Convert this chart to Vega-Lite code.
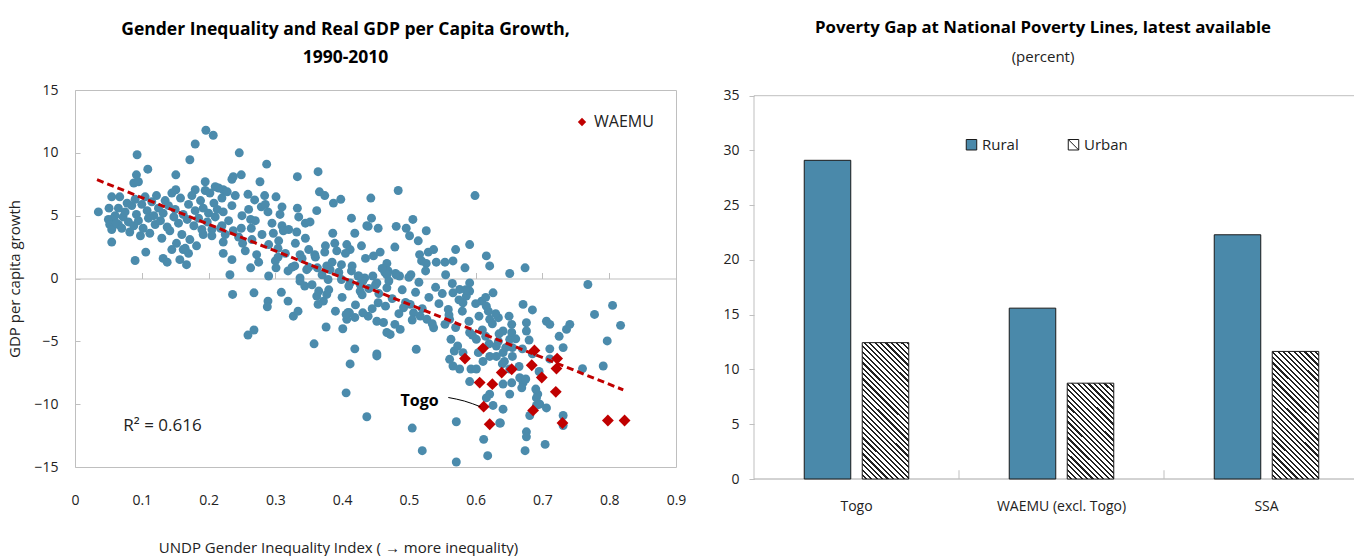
{
"$schema": "https://vega.github.io/schema/vega-lite/v6.json",
"padding": {"left": 7, "top": 19, "right": 0, "bottom": 0},
"background": "white",
"spacing": 35,
"config": {
  "font": "Open Sans",
  "view": {"stroke": null},
  "title": {"font": "Open Sans", "color": "#000", "subtitleFont": "Open Sans", "subtitleColor": "#222"},
  "axis": {"labelFont": "Open Sans", "titleFont": "Open Sans", "labelColor": "#222", "titleColor": "#222", "grid": false, "titleFontWeight": "normal"},
  "legend": {"labelFont": "Open Sans", "labelColor": "#222"}
},
"datasets": {
  "dots": [
{"x":0.035,"y":5.3},{"x":0.196,"y":11.8},{"x":0.207,"y":11.4},{"x":0.18,"y":10.7},{"x":0.172,"y":9.45},{"x":0.093,"y":9.85},{"x":0.109,"y":8.7},{"x":0.092,"y":8.25},{"x":0.088,"y":7.6},{"x":0.095,"y":7.7},
{"x":0.246,"y":10.0},{"x":0.287,"y":9.1},{"x":0.237,"y":8.1},{"x":0.249,"y":8.25},{"x":0.235,"y":7.9},{"x":0.277,"y":7.7},{"x":0.333,"y":8.1},{"x":0.364,"y":8.5},{"x":0.366,"y":6.9},{"x":0.374,"y":6.6},
{"x":0.387,"y":6.0},{"x":0.398,"y":6.3},{"x":0.443,"y":6.4},{"x":0.151,"y":8.25},{"x":0.151,"y":7.06},{"x":0.18,"y":7.06},{"x":0.195,"y":7.7},{"x":0.21,"y":7.3},{"x":0.222,"y":7.06},{"x":0.055,"y":6.5},
{"x":0.067,"y":6.5},{"x":0.051,"y":5.6},{"x":0.055,"y":4.7},{"x":0.06,"y":4.4},{"x":0.065,"y":4.3},{"x":0.055,"y":2.9},{"x":0.09,"y":1.43},{"x":0.106,"y":2.1},{"x":0.132,"y":1.6},{"x":0.138,"y":1.3},
{"x":0.157,"y":1.5},{"x":0.167,"y":1.1},{"x":0.145,"y":2.3},{"x":0.162,"y":2.3},{"x":0.17,"y":2.0},{"x":0.192,"y":3.5},{"x":0.205,"y":3.9},{"x":0.22,"y":4.2},{"x":0.222,"y":2.9},{"x":0.237,"y":3.8},
{"x":0.249,"y":4.0},{"x":0.263,"y":4.7},{"x":0.264,"y":4.0},{"x":0.222,"y":2.0},{"x":0.235,"y":1.5},{"x":0.251,"y":2.8},{"x":0.272,"y":1.9},{"x":0.263,"y":0.85},{"x":0.232,"y":0.3},{"x":0.29,"y":0.2},
{"x":0.297,"y":3.6},{"x":0.31,"y":4.2},{"x":0.307,"y":5.1},{"x":0.312,"y":3.8},{"x":0.284,"y":6.6},{"x":0.279,"y":5.7},{"x":0.289,"y":5.3},{"x":0.259,"y":6.7},{"x":0.269,"y":6.25},{"x":0.301,"y":6.5},
{"x":0.333,"y":5.6},{"x":0.362,"y":5.4},{"x":0.332,"y":3.7},{"x":0.345,"y":4.4},{"x":0.352,"y":4.5},{"x":0.304,"y":2.4},{"x":0.304,"y":1.7},{"x":0.301,"y":0.85},{"x":0.319,"y":0.6},{"x":0.337,"y":1.9},
{"x":0.359,"y":1.9},{"x":0.374,"y":2.1},{"x":0.329,"y":1.0},{"x":0.347,"y":0.7},{"x":0.337,"y":0.05},{"x":0.363,"y":0.85},{"x":0.377,"y":1.0},{"x":0.382,"y":0.7},{"x":0.386,"y":3.6},{"x":0.389,"y":2.8},
{"x":0.392,"y":2.2},{"x":0.407,"y":2.7},{"x":0.412,"y":2.3},{"x":0.429,"y":2.6},{"x":0.414,"y":4.8},{"x":0.419,"y":3.6},{"x":0.437,"y":4.2},{"x":0.444,"y":4.8},{"x":0.454,"y":4.0},{"x":0.447,"y":1.8},
{"x":0.457,"y":2.1},{"x":0.399,"y":1.1},{"x":0.414,"y":0.6},{"x":0.424,"y":0.2},{"x":0.434,"y":0.05},{"x":0.446,"y":0.2},{"x":0.467,"y":1.2},{"x":0.469,"y":0.6},
{"x":0.484,"y":7.0},{"x":0.599,"y":6.6},{"x":0.439,"y":4.15},{"x":0.481,"y":4.15},{"x":0.496,"y":4.0},{"x":0.506,"y":4.7},{"x":0.501,"y":3.4},{"x":0.514,"y":3.0},{"x":0.526,"y":3.8},{"x":0.479,"y":2.5},
{"x":0.464,"y":0.5},{"x":0.516,"y":1.9},{"x":0.529,"y":2.1},{"x":0.537,"y":2.3},{"x":0.519,"y":1.4},{"x":0.526,"y":1.2},{"x":0.541,"y":1.3},{"x":0.554,"y":1.3},{"x":0.566,"y":1.4},{"x":0.57,"y":2.3},
{"x":0.584,"y":0.85},{"x":0.591,"y":2.7},{"x":0.616,"y":1.8},{"x":0.621,"y":1.0},{"x":0.651,"y":0.4},{"x":0.674,"y":0.85},{"x":0.481,"y":0.3},{"x":0.486,"y":0.2},{"x":0.503,"y":0.3},
{"x":0.236,"y":-1.27},{"x":0.268,"y":-1.14},{"x":0.309,"y":-1.1},{"x":0.319,"y":-1.8},{"x":0.289,"y":-1.8},{"x":0.288,"y":-2.25},{"x":0.327,"y":-3.0},{"x":0.334,"y":-2.6},{"x":0.259,"y":-4.5},{"x":0.268,"y":-4.1},
{"x":0.337,"y":-0.21},{"x":0.344,"y":-0.6},{"x":0.362,"y":-1.4},{"x":0.372,"y":-1.8},{"x":0.377,"y":-1.27},{"x":0.364,"y":-2.06},{"x":0.376,"y":-3.86},{"x":0.358,"y":-5.2},{"x":0.401,"y":-4.0},{"x":0.407,"y":-3.25},
{"x":0.409,"y":-2.7},{"x":0.419,"y":-3.1},{"x":0.419,"y":-5.6},{"x":0.412,"y":-6.8},{"x":0.406,"y":-9.1},{"x":0.437,"y":-11.0},{"x":0.439,"y":-3.0},{"x":0.452,"y":-3.4},{"x":0.462,"y":-3.5},{"x":0.454,"y":-1.93},
{"x":0.467,"y":-4.3},{"x":0.452,"y":-6.0},{"x":0.467,"y":0.3},{"x":0.452,"y":-0.35},{"x":0.467,"y":-0.74},{"x":0.399,"y":-0.08},{"x":0.379,"y":-0.08},{"x":0.412,"y":-0.35},{"x":0.427,"y":-0.48},{"x":0.431,"y":-0.21},
{"x":0.768,"y":-0.48},{"x":0.805,"y":-2.14},{"x":0.778,"y":-2.86},{"x":0.817,"y":-3.73},{"x":0.797,"y":-4.97},{"x":0.791,"y":-6.96},{"x":0.76,"y":-7.17},{"x":0.741,"y":-3.65},{"x":0.736,"y":-4.05},{"x":0.725,"y":-4.6},
{"x":0.731,"y":-5.5},{"x":0.711,"y":-5.6},{"x":0.706,"y":-3.4},{"x":0.711,"y":-3.65},{"x":0.685,"y":-2.5},{"x":0.671,"y":-2.06},{"x":0.676,"y":-3.52},{"x":0.676,"y":-4.18},{"x":0.654,"y":-3.65},{"x":0.641,"y":-4.18},
{"x":0.651,"y":-4.84},{"x":0.634,"y":-3.12},{"x":0.626,"y":-1.14},{"x":0.621,"y":-3.25},{"x":0.619,"y":-2.6},{"x":0.609,"y":-1.8},{"x":0.616,"y":-2.2},{"x":0.591,"y":-0.35},{"x":0.591,"y":-1.0},{"x":0.581,"y":-1.93},
{"x":0.586,"y":-1.4},{"x":0.576,"y":-0.87},{"x":0.566,"y":-1.14},{"x":0.559,"y":-2.46},{"x":0.561,"y":-3.25},{"x":0.554,"y":-3.65},{"x":0.537,"y":-3.92},{"x":0.527,"y":-3.25},{"x":0.517,"y":-2.99},{"x":0.507,"y":-2.73},
{"x":0.502,"y":-2.06},{"x":0.492,"y":-2.33},{"x":0.487,"y":-4.05},{"x":0.472,"y":-4.45},{"x":0.479,"y":-3.65},{"x":0.431,"y":-2.73},{"x":0.411,"y":-2.73},{"x":0.406,"y":-2.86},{"x":0.427,"y":-1.0},{"x":0.452,"y":-6.16},
{"x":0.511,"y":-5.63},{"x":0.505,"y":-11.9},{"x":0.52,"y":-13.7},{"x":0.571,"y":-11.4},{"x":0.571,"y":-14.6},{"x":0.612,"y":-12.8},{"x":0.618,"y":-14.1},{"x":0.637,"y":-11.5},{"x":0.676,"y":-12.2},{"x":0.676,"y":-12.6},
{"x":0.674,"y":-13.7},{"x":0.704,"y":-13.2},{"x":0.691,"y":-10.1},{"x":0.696,"y":-10.0},{"x":0.706,"y":-10.3},{"x":0.731,"y":-10.9},{"x":0.731,"y":-11.7},{"x":0.681,"y":-10.9},{"x":0.641,"y":-10.4},{"x":0.626,"y":-10.1},
{"x":0.636,"y":-11.5},{"x":0.615,"y":-4.6},{"x":0.621,"y":-6.2},{"x":0.631,"y":-6.2},{"x":0.643,"y":-6.6},{"x":0.651,"y":-7.2},{"x":0.654,"y":-8.3},{"x":0.641,"y":-8.4},{"x":0.651,"y":-9.2},{"x":0.671,"y":-8.3},
{"x":0.669,"y":-8.7},{"x":0.666,"y":-7.9},{"x":0.621,"y":-9.2},{"x":0.616,"y":-9.5},{"x":0.591,"y":-8.2},{"x":0.593,"y":-7.2},{"x":0.576,"y":-7.2},{"x":0.566,"y":-6.96},{"x":0.561,"y":-6.43},{"x":0.568,"y":-5.77},
{"x":0.563,"y":-4.84},{"x":0.573,"y":-5.37},{"x":0.581,"y":-5.9},{"x":0.591,"y":-4.3},{"x":0.601,"y":-4.84},{"x":0.604,"y":-5.9},{"x":0.611,"y":-6.6},{"x":0.601,"y":-7.2},{"x":0.631,"y":-5.37},{"x":0.641,"y":-5.9},
{"x":0.634,"y":-5.0},{"x":0.655,"y":-5.5},{"x":0.654,"y":-4.3},{"x":0.711,"y":-6.4},{"x":0.691,"y":-9.5},{"x":0.693,"y":-9.2},
{"x":0.05,"y":4.7},{"x":0.052,"y":4.3},{"x":0.055,"y":3.9},{"x":0.06,"y":5.0},{"x":0.062,"y":4.4},{"x":0.065,"y":5.6},{"x":0.07,"y":4.0},{"x":0.072,"y":4.9},{"x":0.075,"y":5.3},{"x":0.078,"y":6.0},
{"x":0.08,"y":4.5},{"x":0.082,"y":3.7},{"x":0.085,"y":5.8},{"x":0.088,"y":4.2},{"x":0.09,"y":6.3},{"x":0.092,"y":5.1},{"x":0.095,"y":4.6},{"x":0.098,"y":3.4},{"x":0.1,"y":5.9},{"x":0.102,"y":4.0},
{"x":0.105,"y":6.5},{"x":0.108,"y":5.4},{"x":0.11,"y":4.8},{"x":0.112,"y":3.6},{"x":0.115,"y":6.1},{"x":0.118,"y":5.0},{"x":0.12,"y":4.3},{"x":0.122,"y":6.6},{"x":0.125,"y":5.6},{"x":0.128,"y":4.6},
{"x":0.13,"y":3.2},{"x":0.132,"y":5.2},{"x":0.135,"y":6.2},{"x":0.138,"y":4.1},{"x":0.14,"y":5.8},{"x":0.142,"y":3.8},{"x":0.145,"y":6.8},{"x":0.148,"y":4.9},{"x":0.15,"y":5.5},{"x":0.152,"y":2.8},
{"x":0.155,"y":4.4},{"x":0.158,"y":6.4},{"x":0.16,"y":3.5},{"x":0.162,"y":5.1},{"x":0.165,"y":2.4},{"x":0.168,"y":4.7},{"x":0.17,"y":5.9},{"x":0.172,"y":3.1},{"x":0.175,"y":6.6},{"x":0.178,"y":4.2},
{"x":0.18,"y":5.4},{"x":0.182,"y":2.6},{"x":0.185,"y":4.8},{"x":0.188,"y":6.2},{"x":0.19,"y":3.9},{"x":0.192,"y":5.6},{"x":0.195,"y":7.0},{"x":0.198,"y":4.5},{"x":0.2,"y":5.2},{"x":0.202,"y":6.8},
{"x":0.205,"y":3.4},{"x":0.208,"y":6.0},{"x":0.21,"y":4.9},{"x":0.213,"y":5.5},{"x":0.215,"y":7.2},{"x":0.218,"y":4.0},{"x":0.22,"y":6.4},{"x":0.222,"y":5.3},{"x":0.225,"y":3.5},{"x":0.228,"y":6.9},
{"x":0.23,"y":4.6},{"x":0.235,"y":5.8},{"x":0.24,"y":6.6},{"x":0.245,"y":3.3},{"x":0.25,"y":5.0},
{"x":0.45,"y":-0.5},{"x":0.455,"y":-1.2},{"x":0.46,"y":0.8},{"x":0.465,"y":-2.2},{"x":0.47,"y":-0.2},{"x":0.475,"y":-1.6},{"x":0.48,"y":0.4},{"x":0.485,"y":-2.8},{"x":0.49,"y":-0.9},{"x":0.495,"y":-1.9},
{"x":0.5,"y":0.1},{"x":0.505,"y":-3.3},{"x":0.51,"y":-1.1},{"x":0.515,"y":-0.3},{"x":0.52,"y":-2.4},{"x":0.525,"y":0.6},{"x":0.53,"y":-1.5},{"x":0.535,"y":-3.6},{"x":0.54,"y":-0.7},{"x":0.545,"y":-2.0},
{"x":0.55,"y":-1.2},{"x":0.555,"y":0.3},{"x":0.56,"y":-2.9},{"x":0.565,"y":-0.4},{"x":0.57,"y":-3.9},{"x":0.575,"y":-1.7},{"x":0.58,"y":-2.6},{"x":0.585,"y":-0.9},{"x":0.59,"y":-3.4},{"x":0.595,"y":-4.5},
{"x":0.6,"y":-2.0},{"x":0.605,"y":-3.0},{"x":0.61,"y":-4.1},{"x":0.615,"y":-1.5},{"x":0.62,"y":-5.2},{"x":0.625,"y":-3.6},{"x":0.63,"y":-2.8},{"x":0.635,"y":-4.4},{"x":0.64,"y":-6.8},{"x":0.645,"y":-5.5},
{"x":0.65,"y":-3.0},{"x":0.655,"y":-6.2},{"x":0.66,"y":-4.8},{"x":0.665,"y":-7.0},{"x":0.67,"y":-5.6},{"x":0.675,"y":-8.0},{"x":0.68,"y":-4.9},{"x":0.685,"y":-6.0},{"x":0.69,"y":-8.8},{"x":0.695,"y":-7.4},
{"x":0.35,"y":0.9},{"x":0.355,"y":-0.5},{"x":0.36,"y":1.7},{"x":0.365,"y":-1.0},{"x":0.37,"y":0.3},{"x":0.375,"y":2.6},{"x":0.38,"y":-0.9},{"x":0.385,"y":1.3},{"x":0.39,"y":-2.6},{"x":0.395,"y":0.5},
{"x":0.4,"y":-1.5},{"x":0.405,"y":2.0},{"x":0.41,"y":-0.6},{"x":0.415,"y":1.0},{"x":0.42,"y":-2.1},{"x":0.425,"y":0.2},{"x":0.43,"y":-1.3},{"x":0.435,"y":1.6},{"x":0.44,"y":-0.8},{"x":0.445,"y":-2.4},
{"x":0.255,"y":2.2},{"x":0.26,"y":5.5},{"x":0.265,"y":3.1},{"x":0.27,"y":4.6},{"x":0.275,"y":1.3},{"x":0.28,"y":3.5},{"x":0.285,"y":5.9},{"x":0.29,"y":2.7},{"x":0.295,"y":4.4},{"x":0.3,"y":1.4},
{"x":0.305,"y":3.0},{"x":0.31,"y":5.7},{"x":0.315,"y":2.0},{"x":0.32,"y":3.9},{"x":0.325,"y":0.9},{"x":0.33,"y":2.8},{"x":0.335,"y":4.9},{"x":0.34,"y":1.6},{"x":0.345,"y":3.2},{"x":0.35,"y":2.3}
  ],
  "waemu": [
{"x":0.584,"y":-6.37,"group":"WAEMU"},{"x":0.611,"y":-5.56,"group":"WAEMU"},{"x":0.688,"y":-5.72,"group":"WAEMU"},{"x":0.722,"y":-6.37,"group":"WAEMU"},{"x":0.721,"y":-7.17,"group":"WAEMU"},{"x":0.684,"y":-6.9,"group":"WAEMU"},
{"x":0.699,"y":-7.88,"group":"WAEMU"},{"x":0.654,"y":-7.22,"group":"WAEMU"},{"x":0.639,"y":-7.49,"group":"WAEMU"},{"x":0.606,"y":-8.28,"group":"WAEMU"},{"x":0.625,"y":-8.41,"group":"WAEMU"},{"x":0.72,"y":-9.02,"group":"WAEMU"},
{"x":0.612,"y":-10.2,"group":"WAEMU"},{"x":0.621,"y":-11.6,"group":"WAEMU"},{"x":0.686,"y":-10.5,"group":"WAEMU"},{"x":0.73,"y":-11.5,"group":"WAEMU"},{"x":0.798,"y":-11.3,"group":"WAEMU"},{"x":0.823,"y":-11.3,"group":"WAEMU"}
  ],
  "trend": [{"x":0.033,"y":7.86},{"x":0.821,"y":-8.86}],
  "togoLine": [{"x":0.559,"y":-9.47},{"x":0.583,"y":-9.75},{"x":0.607,"y":-10.2}],
  "bars": [
{"region":"Togo","type":"Rural","value":29.1},{"region":"Togo","type":"Urban","value":12.45},
{"region":"WAEMU (excl. Togo)","type":"Rural","value":15.6},{"region":"WAEMU (excl. Togo)","type":"Urban","value":8.75},
{"region":"SSA","type":"Rural","value":22.3},{"region":"SSA","type":"Urban","value":11.65}
  ]
},
"hconcat": [
{
  "width": 601, "height": 377,
  "view": {"stroke": "#bfbfbf"},
  "title": {"text": ["Gender Inequality and Real GDP per Capita Growth,", "1990-2010"], "fontSize": 17.5, "fontWeight": "bold", "lineHeight": 28, "dx": -30, "offset": 17},
  "resolve": {"axis": {"x": "independent"}},
  "layer": [
    {"data": {"name": "dots"}, "mark": {"type": "circle", "size": 80, "color": "#4b8bac", "opacity": 1},
     "encoding": {
       "x": {"field": "x", "type": "quantitative", "scale": {"domain": [0, 0.9], "nice": false, "zero": false},
             "axis": {"values": [0,0.1,0.2,0.3,0.4,0.5,0.6,0.7,0.8,0.9], "format": ".1~f", "labelFlush": false, "ticks": false, "domain": false, "labelPadding": 26, "labelFontSize": 14, "title": "UNDP Gender Inequality Index ( → more inequality)", "titleFontSize": 15, "titlePadding": 33, "titleX": 263}},
       "y": {"field": "y", "type": "quantitative", "scale": {"domain": [-15, 15], "nice": false},
             "axis": {"values": [-15,-10,-5,0,5,10,15], "domain": false, "tickSize": -5, "tickColor": "#bfbfbf", "labelPadding": 22, "labelFontSize": 14, "title": "GDP per capita growth", "titleFontSize": 15, "titlePadding": 11}}
     }},
    {"data": {"name": "trend"}, "mark": {"type": "line", "color": "#c00000", "strokeWidth": 3, "strokeDash": [7, 4]},
     "encoding": {
       "x": {"field": "x", "type": "quantitative", "axis": {"orient": "bottom", "offset": -188.5, "labels": false, "title": null, "domain": true, "domainColor": "#bfbfbf", "ticks": true, "tickSize": -6, "tickColor": "#bfbfbf", "values": [0.1,0.2,0.3,0.4,0.5,0.6,0.7,0.8]}},
       "y": {"field": "y", "type": "quantitative"}
     }},
    {"data": {"name": "waemu"}, "mark": {"type": "point", "shape": "diamond", "filled": true, "size": 140, "opacity": 1},
     "encoding": {
       "x": {"field": "x", "type": "quantitative", "axis": null},
       "y": {"field": "y", "type": "quantitative"},
       "color": {"field": "group", "type": "nominal", "scale": {"domain": ["WAEMU"], "range": ["#c00000"]},
                 "legend": {"title": null, "orient": "none", "legendX": 499, "legendY": 24, "symbolType": "diamond", "symbolSize": 70, "symbolOpacity": 1, "labelFontSize": 16, "labelOffset": 4}}
     }},
    {"data": {"name": "togoLine"}, "mark": {"type": "line", "color": "#000", "strokeWidth": 1, "interpolate": "monotone"},
     "encoding": {
       "x": {"field": "x", "type": "quantitative", "axis": null},
       "y": {"field": "y", "type": "quantitative"}
     }},
    {"data": {"values": [{"x": 0.516, "y": -9.76, "label": "Togo"}]}, "mark": {"type": "text", "fontSize": 16, "fontWeight": "bold", "color": "#000", "align": "center", "baseline": "middle"},
     "encoding": {
       "x": {"field": "x", "type": "quantitative", "axis": null},
       "y": {"field": "y", "type": "quantitative"},
       "text": {"field": "label"}
     }},
    {"data": {"values": [{"x": 0.131, "y": -11.75, "label": "R² = 0.616"}]}, "mark": {"type": "text", "fontSize": 17, "color": "#222", "align": "center", "baseline": "middle"},
     "encoding": {
       "x": {"field": "x", "type": "quantitative", "axis": null},
       "y": {"field": "y", "type": "quantitative"},
       "text": {"field": "label"}
     }}
  ]
},
{
  "width": 600, "height": 389,
  "view": {"stroke": null},
  "title": {"text": "Poverty Gap at National Poverty Lines, latest available", "subtitle": "(percent)", "fontSize": 16.8, "fontWeight": "bold", "subtitleFontSize": 15, "subtitlePadding": 13, "dx": -11, "offset": 24},
  "data": {"name": "bars"},
  "layer": [
    {"data": {"values": [{}]}, "mark": {"type": "rule", "color": "#bfbfbf"}, "encoding": {"y": {"datum": 35, "type": "quantitative"}}},
    {"data": {"values": [{}]}, "mark": {"type": "rule", "color": "#a6a6a6"}, "encoding": {"y": {"datum": 0, "type": "quantitative"}}},
    {"mark": {"type": "bar", "stroke": "#1a1a1a", "strokeWidth": 1},
     "encoding": {
       "x": {"field": "region", "type": "nominal", "sort": null, "scale": {"domain": ["Togo", "WAEMU (excl. Togo)", "SSA"], "range": [0, 615], "paddingInner": 0, "paddingOuter": 0},
             "axis": {"title": null, "ticks": false, "domain": false, "labelAngle": 0, "labelPadding": 20, "labelFontSize": 14}},
       "xOffset": {"field": "type", "type": "nominal", "scale": {"domain": ["Rural", "Urban"], "paddingInner": 0.198, "paddingOuter": 0.866}},
       "y": {"field": "value", "type": "quantitative", "scale": {"domain": [0, 35.52], "nice": false},
             "axis": {"title": null, "values": [0,5,10,15,20,25,30,35], "domain": false, "tickColor": "#bfbfbf", "tickSize": 5, "labelPadding": 10, "labelFontSize": 14}},
       "fill": {"field": "type", "type": "nominal", "scale": {"domain": ["Rural", "Urban"], "range": ["#4a89aa", "#ffffff"]},
         "legend": {"title": null, "orient": "none", "legendX": 889, "legendY": 47, "direction": "horizontal", "symbolType": "square", "symbolSize": 110, "symbolStrokeColor": "#1a1a1a", "symbolStrokeWidth": 1, "labelFontSize": 15, "labelOffset": 3, "columnPadding": 47,
           "encode": {"symbols": {"update": {"shape": [{"test": "datum.value === 'Urban'", "value": "M-1,-1H1V1H-1Z M-1,-1L1,1"}, {"value": "square"}], "stroke": {"value": "#1a1a1a"}, "strokeWidth": {"value": 1}}}}},
         "condition": [
           {"test": "datum.type === 'Urban' && datum.region === 'Togo'", "value": {"gradient": "linear", "x1": 0, "y1": 1, "x2": 0.4309, "y2": -0.2677, "stops": [
{"offset":0,"color":"#fff"},{"offset":0.01667,"color":"#fff"},{"offset":0.01667,"color":"#222"},{"offset":0.02778,"color":"#222"},
{"offset":0.02778,"color":"#fff"},{"offset":0.04444,"color":"#fff"},{"offset":0.04444,"color":"#222"},{"offset":0.05556,"color":"#222"},
{"offset":0.05556,"color":"#fff"},{"offset":0.07222,"color":"#fff"},{"offset":0.07222,"color":"#222"},{"offset":0.08333,"color":"#222"},
{"offset":0.08333,"color":"#fff"},{"offset":0.1,"color":"#fff"},{"offset":0.1,"color":"#222"},{"offset":0.11111,"color":"#222"},
{"offset":0.11111,"color":"#fff"},{"offset":0.12778,"color":"#fff"},{"offset":0.12778,"color":"#222"},{"offset":0.13889,"color":"#222"},
{"offset":0.13889,"color":"#fff"},{"offset":0.15556,"color":"#fff"},{"offset":0.15556,"color":"#222"},{"offset":0.16667,"color":"#222"},
{"offset":0.16667,"color":"#fff"},{"offset":0.18333,"color":"#fff"},{"offset":0.18333,"color":"#222"},{"offset":0.19444,"color":"#222"},
{"offset":0.19444,"color":"#fff"},{"offset":0.21111,"color":"#fff"},{"offset":0.21111,"color":"#222"},{"offset":0.22222,"color":"#222"},
{"offset":0.22222,"color":"#fff"},{"offset":0.23889,"color":"#fff"},{"offset":0.23889,"color":"#222"},{"offset":0.25,"color":"#222"},
{"offset":0.25,"color":"#fff"},{"offset":0.26667,"color":"#fff"},{"offset":0.26667,"color":"#222"},{"offset":0.27778,"color":"#222"},
{"offset":0.27778,"color":"#fff"},{"offset":0.29444,"color":"#fff"},{"offset":0.29444,"color":"#222"},{"offset":0.30556,"color":"#222"},
{"offset":0.30556,"color":"#fff"},{"offset":0.32222,"color":"#fff"},{"offset":0.32222,"color":"#222"},{"offset":0.33333,"color":"#222"},
{"offset":0.33333,"color":"#fff"},{"offset":0.35,"color":"#fff"},{"offset":0.35,"color":"#222"},{"offset":0.36111,"color":"#222"},
{"offset":0.36111,"color":"#fff"},{"offset":0.37778,"color":"#fff"},{"offset":0.37778,"color":"#222"},{"offset":0.38889,"color":"#222"},
{"offset":0.38889,"color":"#fff"},{"offset":0.40556,"color":"#fff"},{"offset":0.40556,"color":"#222"},{"offset":0.41667,"color":"#222"},
{"offset":0.41667,"color":"#fff"},{"offset":0.43333,"color":"#fff"},{"offset":0.43333,"color":"#222"},{"offset":0.44444,"color":"#222"},
{"offset":0.44444,"color":"#fff"},{"offset":0.46111,"color":"#fff"},{"offset":0.46111,"color":"#222"},{"offset":0.47222,"color":"#222"},
{"offset":0.47222,"color":"#fff"},{"offset":0.48889,"color":"#fff"},{"offset":0.48889,"color":"#222"},{"offset":0.5,"color":"#222"},
{"offset":0.5,"color":"#fff"},{"offset":0.51667,"color":"#fff"},{"offset":0.51667,"color":"#222"},{"offset":0.52778,"color":"#222"},
{"offset":0.52778,"color":"#fff"},{"offset":0.54444,"color":"#fff"},{"offset":0.54444,"color":"#222"},{"offset":0.55556,"color":"#222"},
{"offset":0.55556,"color":"#fff"},{"offset":0.57222,"color":"#fff"},{"offset":0.57222,"color":"#222"},{"offset":0.58333,"color":"#222"},
{"offset":0.58333,"color":"#fff"},{"offset":0.6,"color":"#fff"},{"offset":0.6,"color":"#222"},{"offset":0.61111,"color":"#222"},
{"offset":0.61111,"color":"#fff"},{"offset":0.62778,"color":"#fff"},{"offset":0.62778,"color":"#222"},{"offset":0.63889,"color":"#222"},
{"offset":0.63889,"color":"#fff"},{"offset":0.65556,"color":"#fff"},{"offset":0.65556,"color":"#222"},{"offset":0.66667,"color":"#222"},
{"offset":0.66667,"color":"#fff"},{"offset":0.68333,"color":"#fff"},{"offset":0.68333,"color":"#222"},{"offset":0.69444,"color":"#222"},
{"offset":0.69444,"color":"#fff"},{"offset":0.71111,"color":"#fff"},{"offset":0.71111,"color":"#222"},{"offset":0.72222,"color":"#222"},
{"offset":0.72222,"color":"#fff"},{"offset":0.73889,"color":"#fff"},{"offset":0.73889,"color":"#222"},{"offset":0.75,"color":"#222"},
{"offset":0.75,"color":"#fff"},{"offset":0.76667,"color":"#fff"},{"offset":0.76667,"color":"#222"},{"offset":0.77778,"color":"#222"},
{"offset":0.77778,"color":"#fff"},{"offset":0.79444,"color":"#fff"},{"offset":0.79444,"color":"#222"},{"offset":0.80556,"color":"#222"},
{"offset":0.80556,"color":"#fff"},{"offset":0.82222,"color":"#fff"},{"offset":0.82222,"color":"#222"},{"offset":0.83333,"color":"#222"},
{"offset":0.83333,"color":"#fff"},{"offset":0.85,"color":"#fff"},{"offset":0.85,"color":"#222"},{"offset":0.86111,"color":"#222"},
{"offset":0.86111,"color":"#fff"},{"offset":0.87778,"color":"#fff"},{"offset":0.87778,"color":"#222"},{"offset":0.88889,"color":"#222"},
{"offset":0.88889,"color":"#fff"},{"offset":0.90556,"color":"#fff"},{"offset":0.90556,"color":"#222"},{"offset":0.91667,"color":"#222"},
{"offset":0.91667,"color":"#fff"},{"offset":0.93333,"color":"#fff"},{"offset":0.93333,"color":"#222"},{"offset":0.94444,"color":"#222"},
{"offset":0.94444,"color":"#fff"},{"offset":0.96111,"color":"#fff"},{"offset":0.96111,"color":"#222"},{"offset":0.97222,"color":"#222"},
{"offset":0.97222,"color":"#fff"},{"offset":0.98889,"color":"#fff"},{"offset":0.98889,"color":"#222"},{"offset":1,"color":"#222"}
           ]}},
           {"test": "datum.type === 'Urban' && datum.region === 'SSA'", "value": {"gradient": "linear", "x1": 0, "y1": 1, "x2": 0.485, "y2": -0.3352, "stops": [
{"offset":0,"color":"#fff"},{"offset":0.01667,"color":"#fff"},{"offset":0.01667,"color":"#222"},{"offset":0.02778,"color":"#222"},
{"offset":0.02778,"color":"#fff"},{"offset":0.04444,"color":"#fff"},{"offset":0.04444,"color":"#222"},{"offset":0.05556,"color":"#222"},
{"offset":0.05556,"color":"#fff"},{"offset":0.07222,"color":"#fff"},{"offset":0.07222,"color":"#222"},{"offset":0.08333,"color":"#222"},
{"offset":0.08333,"color":"#fff"},{"offset":0.1,"color":"#fff"},{"offset":0.1,"color":"#222"},{"offset":0.11111,"color":"#222"},
{"offset":0.11111,"color":"#fff"},{"offset":0.12778,"color":"#fff"},{"offset":0.12778,"color":"#222"},{"offset":0.13889,"color":"#222"},
{"offset":0.13889,"color":"#fff"},{"offset":0.15556,"color":"#fff"},{"offset":0.15556,"color":"#222"},{"offset":0.16667,"color":"#222"},
{"offset":0.16667,"color":"#fff"},{"offset":0.18333,"color":"#fff"},{"offset":0.18333,"color":"#222"},{"offset":0.19444,"color":"#222"},
{"offset":0.19444,"color":"#fff"},{"offset":0.21111,"color":"#fff"},{"offset":0.21111,"color":"#222"},{"offset":0.22222,"color":"#222"},
{"offset":0.22222,"color":"#fff"},{"offset":0.23889,"color":"#fff"},{"offset":0.23889,"color":"#222"},{"offset":0.25,"color":"#222"},
{"offset":0.25,"color":"#fff"},{"offset":0.26667,"color":"#fff"},{"offset":0.26667,"color":"#222"},{"offset":0.27778,"color":"#222"},
{"offset":0.27778,"color":"#fff"},{"offset":0.29444,"color":"#fff"},{"offset":0.29444,"color":"#222"},{"offset":0.30556,"color":"#222"},
{"offset":0.30556,"color":"#fff"},{"offset":0.32222,"color":"#fff"},{"offset":0.32222,"color":"#222"},{"offset":0.33333,"color":"#222"},
{"offset":0.33333,"color":"#fff"},{"offset":0.35,"color":"#fff"},{"offset":0.35,"color":"#222"},{"offset":0.36111,"color":"#222"},
{"offset":0.36111,"color":"#fff"},{"offset":0.37778,"color":"#fff"},{"offset":0.37778,"color":"#222"},{"offset":0.38889,"color":"#222"},
{"offset":0.38889,"color":"#fff"},{"offset":0.40556,"color":"#fff"},{"offset":0.40556,"color":"#222"},{"offset":0.41667,"color":"#222"},
{"offset":0.41667,"color":"#fff"},{"offset":0.43333,"color":"#fff"},{"offset":0.43333,"color":"#222"},{"offset":0.44444,"color":"#222"},
{"offset":0.44444,"color":"#fff"},{"offset":0.46111,"color":"#fff"},{"offset":0.46111,"color":"#222"},{"offset":0.47222,"color":"#222"},
{"offset":0.47222,"color":"#fff"},{"offset":0.48889,"color":"#fff"},{"offset":0.48889,"color":"#222"},{"offset":0.5,"color":"#222"},
{"offset":0.5,"color":"#fff"},{"offset":0.51667,"color":"#fff"},{"offset":0.51667,"color":"#222"},{"offset":0.52778,"color":"#222"},
{"offset":0.52778,"color":"#fff"},{"offset":0.54444,"color":"#fff"},{"offset":0.54444,"color":"#222"},{"offset":0.55556,"color":"#222"},
{"offset":0.55556,"color":"#fff"},{"offset":0.57222,"color":"#fff"},{"offset":0.57222,"color":"#222"},{"offset":0.58333,"color":"#222"},
{"offset":0.58333,"color":"#fff"},{"offset":0.6,"color":"#fff"},{"offset":0.6,"color":"#222"},{"offset":0.61111,"color":"#222"},
{"offset":0.61111,"color":"#fff"},{"offset":0.62778,"color":"#fff"},{"offset":0.62778,"color":"#222"},{"offset":0.63889,"color":"#222"},
{"offset":0.63889,"color":"#fff"},{"offset":0.65556,"color":"#fff"},{"offset":0.65556,"color":"#222"},{"offset":0.66667,"color":"#222"},
{"offset":0.66667,"color":"#fff"},{"offset":0.68333,"color":"#fff"},{"offset":0.68333,"color":"#222"},{"offset":0.69444,"color":"#222"},
{"offset":0.69444,"color":"#fff"},{"offset":0.71111,"color":"#fff"},{"offset":0.71111,"color":"#222"},{"offset":0.72222,"color":"#222"},
{"offset":0.72222,"color":"#fff"},{"offset":0.73889,"color":"#fff"},{"offset":0.73889,"color":"#222"},{"offset":0.75,"color":"#222"},
{"offset":0.75,"color":"#fff"},{"offset":0.76667,"color":"#fff"},{"offset":0.76667,"color":"#222"},{"offset":0.77778,"color":"#222"},
{"offset":0.77778,"color":"#fff"},{"offset":0.79444,"color":"#fff"},{"offset":0.79444,"color":"#222"},{"offset":0.80556,"color":"#222"},
{"offset":0.80556,"color":"#fff"},{"offset":0.82222,"color":"#fff"},{"offset":0.82222,"color":"#222"},{"offset":0.83333,"color":"#222"},
{"offset":0.83333,"color":"#fff"},{"offset":0.85,"color":"#fff"},{"offset":0.85,"color":"#222"},{"offset":0.86111,"color":"#222"},
{"offset":0.86111,"color":"#fff"},{"offset":0.87778,"color":"#fff"},{"offset":0.87778,"color":"#222"},{"offset":0.88889,"color":"#222"},
{"offset":0.88889,"color":"#fff"},{"offset":0.90556,"color":"#fff"},{"offset":0.90556,"color":"#222"},{"offset":0.91667,"color":"#222"},
{"offset":0.91667,"color":"#fff"},{"offset":0.93333,"color":"#fff"},{"offset":0.93333,"color":"#222"},{"offset":0.94444,"color":"#222"},
{"offset":0.94444,"color":"#fff"},{"offset":0.96111,"color":"#fff"},{"offset":0.96111,"color":"#222"},{"offset":0.97222,"color":"#222"},
{"offset":0.97222,"color":"#fff"},{"offset":0.98889,"color":"#fff"},{"offset":0.98889,"color":"#222"},{"offset":1,"color":"#222"}
           ]}},
           {"test": "datum.type === 'Urban'", "value": {"gradient": "linear", "x1": 0, "y1": 1, "x2": 0.7866, "y2": -0.629, "stops": [
{"offset":0,"color":"#fff"},{"offset":0.01667,"color":"#fff"},{"offset":0.01667,"color":"#222"},{"offset":0.02778,"color":"#222"},
{"offset":0.02778,"color":"#fff"},{"offset":0.04444,"color":"#fff"},{"offset":0.04444,"color":"#222"},{"offset":0.05556,"color":"#222"},
{"offset":0.05556,"color":"#fff"},{"offset":0.07222,"color":"#fff"},{"offset":0.07222,"color":"#222"},{"offset":0.08333,"color":"#222"},
{"offset":0.08333,"color":"#fff"},{"offset":0.1,"color":"#fff"},{"offset":0.1,"color":"#222"},{"offset":0.11111,"color":"#222"},
{"offset":0.11111,"color":"#fff"},{"offset":0.12778,"color":"#fff"},{"offset":0.12778,"color":"#222"},{"offset":0.13889,"color":"#222"},
{"offset":0.13889,"color":"#fff"},{"offset":0.15556,"color":"#fff"},{"offset":0.15556,"color":"#222"},{"offset":0.16667,"color":"#222"},
{"offset":0.16667,"color":"#fff"},{"offset":0.18333,"color":"#fff"},{"offset":0.18333,"color":"#222"},{"offset":0.19444,"color":"#222"},
{"offset":0.19444,"color":"#fff"},{"offset":0.21111,"color":"#fff"},{"offset":0.21111,"color":"#222"},{"offset":0.22222,"color":"#222"},
{"offset":0.22222,"color":"#fff"},{"offset":0.23889,"color":"#fff"},{"offset":0.23889,"color":"#222"},{"offset":0.25,"color":"#222"},
{"offset":0.25,"color":"#fff"},{"offset":0.26667,"color":"#fff"},{"offset":0.26667,"color":"#222"},{"offset":0.27778,"color":"#222"},
{"offset":0.27778,"color":"#fff"},{"offset":0.29444,"color":"#fff"},{"offset":0.29444,"color":"#222"},{"offset":0.30556,"color":"#222"},
{"offset":0.30556,"color":"#fff"},{"offset":0.32222,"color":"#fff"},{"offset":0.32222,"color":"#222"},{"offset":0.33333,"color":"#222"},
{"offset":0.33333,"color":"#fff"},{"offset":0.35,"color":"#fff"},{"offset":0.35,"color":"#222"},{"offset":0.36111,"color":"#222"},
{"offset":0.36111,"color":"#fff"},{"offset":0.37778,"color":"#fff"},{"offset":0.37778,"color":"#222"},{"offset":0.38889,"color":"#222"},
{"offset":0.38889,"color":"#fff"},{"offset":0.40556,"color":"#fff"},{"offset":0.40556,"color":"#222"},{"offset":0.41667,"color":"#222"},
{"offset":0.41667,"color":"#fff"},{"offset":0.43333,"color":"#fff"},{"offset":0.43333,"color":"#222"},{"offset":0.44444,"color":"#222"},
{"offset":0.44444,"color":"#fff"},{"offset":0.46111,"color":"#fff"},{"offset":0.46111,"color":"#222"},{"offset":0.47222,"color":"#222"},
{"offset":0.47222,"color":"#fff"},{"offset":0.48889,"color":"#fff"},{"offset":0.48889,"color":"#222"},{"offset":0.5,"color":"#222"},
{"offset":0.5,"color":"#fff"},{"offset":0.51667,"color":"#fff"},{"offset":0.51667,"color":"#222"},{"offset":0.52778,"color":"#222"},
{"offset":0.52778,"color":"#fff"},{"offset":0.54444,"color":"#fff"},{"offset":0.54444,"color":"#222"},{"offset":0.55556,"color":"#222"},
{"offset":0.55556,"color":"#fff"},{"offset":0.57222,"color":"#fff"},{"offset":0.57222,"color":"#222"},{"offset":0.58333,"color":"#222"},
{"offset":0.58333,"color":"#fff"},{"offset":0.6,"color":"#fff"},{"offset":0.6,"color":"#222"},{"offset":0.61111,"color":"#222"},
{"offset":0.61111,"color":"#fff"},{"offset":0.62778,"color":"#fff"},{"offset":0.62778,"color":"#222"},{"offset":0.63889,"color":"#222"},
{"offset":0.63889,"color":"#fff"},{"offset":0.65556,"color":"#fff"},{"offset":0.65556,"color":"#222"},{"offset":0.66667,"color":"#222"},
{"offset":0.66667,"color":"#fff"},{"offset":0.68333,"color":"#fff"},{"offset":0.68333,"color":"#222"},{"offset":0.69444,"color":"#222"},
{"offset":0.69444,"color":"#fff"},{"offset":0.71111,"color":"#fff"},{"offset":0.71111,"color":"#222"},{"offset":0.72222,"color":"#222"},
{"offset":0.72222,"color":"#fff"},{"offset":0.73889,"color":"#fff"},{"offset":0.73889,"color":"#222"},{"offset":0.75,"color":"#222"},
{"offset":0.75,"color":"#fff"},{"offset":0.76667,"color":"#fff"},{"offset":0.76667,"color":"#222"},{"offset":0.77778,"color":"#222"},
{"offset":0.77778,"color":"#fff"},{"offset":0.79444,"color":"#fff"},{"offset":0.79444,"color":"#222"},{"offset":0.80556,"color":"#222"},
{"offset":0.80556,"color":"#fff"},{"offset":0.82222,"color":"#fff"},{"offset":0.82222,"color":"#222"},{"offset":0.83333,"color":"#222"},
{"offset":0.83333,"color":"#fff"},{"offset":0.85,"color":"#fff"},{"offset":0.85,"color":"#222"},{"offset":0.86111,"color":"#222"},
{"offset":0.86111,"color":"#fff"},{"offset":0.87778,"color":"#fff"},{"offset":0.87778,"color":"#222"},{"offset":0.88889,"color":"#222"},
{"offset":0.88889,"color":"#fff"},{"offset":0.90556,"color":"#fff"},{"offset":0.90556,"color":"#222"},{"offset":0.91667,"color":"#222"},
{"offset":0.91667,"color":"#fff"},{"offset":0.93333,"color":"#fff"},{"offset":0.93333,"color":"#222"},{"offset":0.94444,"color":"#222"},
{"offset":0.94444,"color":"#fff"},{"offset":0.96111,"color":"#fff"},{"offset":0.96111,"color":"#222"},{"offset":0.97222,"color":"#222"},
{"offset":0.97222,"color":"#fff"},{"offset":0.98889,"color":"#fff"},{"offset":0.98889,"color":"#222"},{"offset":1,"color":"#222"}
           ]}}
         ]
       }
     }},
    {"transform": [{"filter": "datum.type === 'Rural' && datum.region !== 'Togo'"}], "mark": {"type": "rule", "color": "#bfbfbf"},
     "encoding": {
       "x": {"field": "region", "type": "nominal", "bandPosition": 0},
       "y": {"datum": 0, "type": "quantitative"},
       "y2": {"datum": 0.8}
     }},
    {"transform": [{"filter": "datum.type === 'Rural' && datum.region === 'Togo'"}], "mark": {"type": "rule", "color": "#bfbfbf"},
     "encoding": {
       "x": {"field": "region", "type": "nominal", "bandPosition": 0},
       "y": {"datum": 0, "type": "quantitative"},
       "y2": {"datum": 35}
     }}
  ]
}
]
}
